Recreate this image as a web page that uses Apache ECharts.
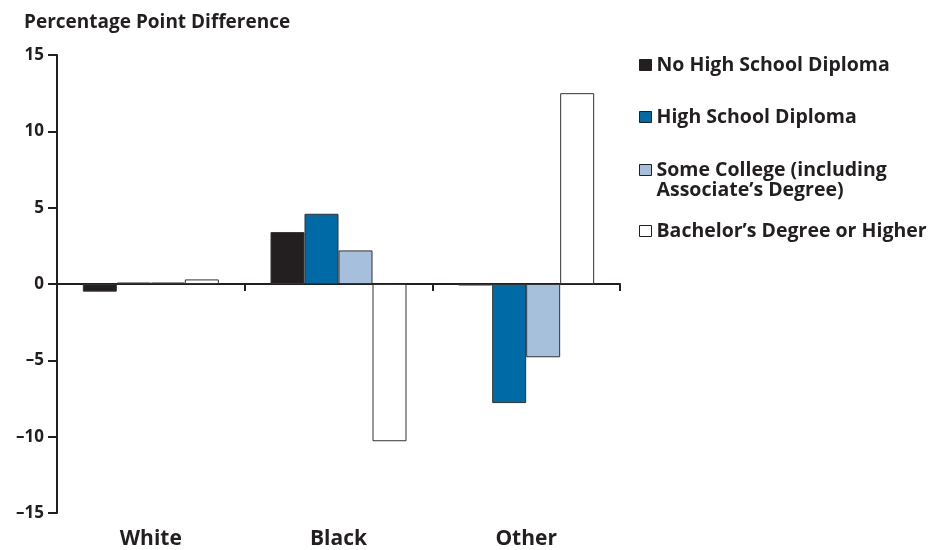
<!DOCTYPE html>
<html><head><meta charset="utf-8">
<script src="https://cdn.jsdelivr.net/npm/echarts@6/dist/echarts.min.js"></script>
<style>html,body{margin:0;padding:0;background:#fff}#c{width:932px;height:550px}</style>
</head><body><div id="c"></div>
<script>
const categories = ['White', 'Black', 'Other'];
const seriesNames = ['No High School Diploma', 'High School Diploma', 'Some College (including Associate\u2019s Degree)', 'Bachelor\u2019s Degree or Higher'];
const noDiploma = [-0.5, 3.4, -0.1];
const hsDiploma = [0.1, 4.6, -7.8];
const someCollege = [0.1, 2.2, -4.8];
const bachelors = [0.3, -10.3, 12.5];
const yTicks = {min: -15, max: 15, interval: 5};

const colors = ['#231f20', '#006aa7', '#a6bfdd', '#ffffff'];
const dark = '#231f20';
const font = '"Open Sans"';
const values = [noDiploma, hsDiploma, someCollege, bachelors];

const chart = echarts.init(document.getElementById('c'));
const legendTops = [50, 102, 135, 216];
const legends = seriesNames.map((n, i) => ({
  data: [n],
  orient: 'vertical',
  left: 634,
  top: legendTops[i],
  icon: 'rect',
  itemWidth: 12,
  itemHeight: 11,
  selectedMode: false,
  formatter: (name) => name === seriesNames[2] ? ' \nSome College (including\nAssociate\u2019s Degree)' : name,
  textStyle: {fontFamily: font, fontWeight: 'bold', fontSize: 19.5, color: dark, lineHeight: 20},
  itemStyle: {borderColor: dark, borderWidth: 1}
}));

chart.setOption({
  animation: false,
  title: {text: 'Percentage Point Difference', left: 19, top: 8,
    textStyle: {fontFamily: font, fontWeight: 'bold', fontSize: 19, color: dark}},
  legend: legends,
  grid: {left: 57, right: 312, top: 55, bottom: 37},
  xAxis: [{
    type: 'category', data: categories, position: 'bottom',
    axisLine: {onZero: true, lineStyle: {color: dark, width: 2}},
    axisTick: {show: true, length: 7, lineStyle: {color: dark, width: 2}},
    axisLabel: {show: false}
  }, {
    type: 'category', data: categories, position: 'bottom',
    axisLine: {show: false, onZero: false}, axisTick: {show: false},
    axisLabel: {margin: 16, fontFamily: font, fontWeight: 'bold', fontSize: 21, color: dark}
  }],
  yAxis: {
    type: 'value', min: yTicks.min, max: yTicks.max, interval: yTicks.interval,
    splitLine: {show: false},
    axisLine: {show: true, lineStyle: {color: dark, width: 2}},
    axisTick: {show: true, length: 9, lineStyle: {color: dark, width: 2}},
    axisLabel: {margin: 13, fontFamily: font, fontWeight: 'bold', fontSize: 17, color: dark,
      formatter: v => String(v).replace('-', '\u2013')}
  },
  series: seriesNames.map((n, i) => ({
    name: n, type: 'bar', data: values[i], xAxisIndex: 0,
    barWidth: 34, barGap: '0%',
    itemStyle: {color: colors[i], borderColor: '#333', borderWidth: 1}
  }))
});
</script></body></html>
